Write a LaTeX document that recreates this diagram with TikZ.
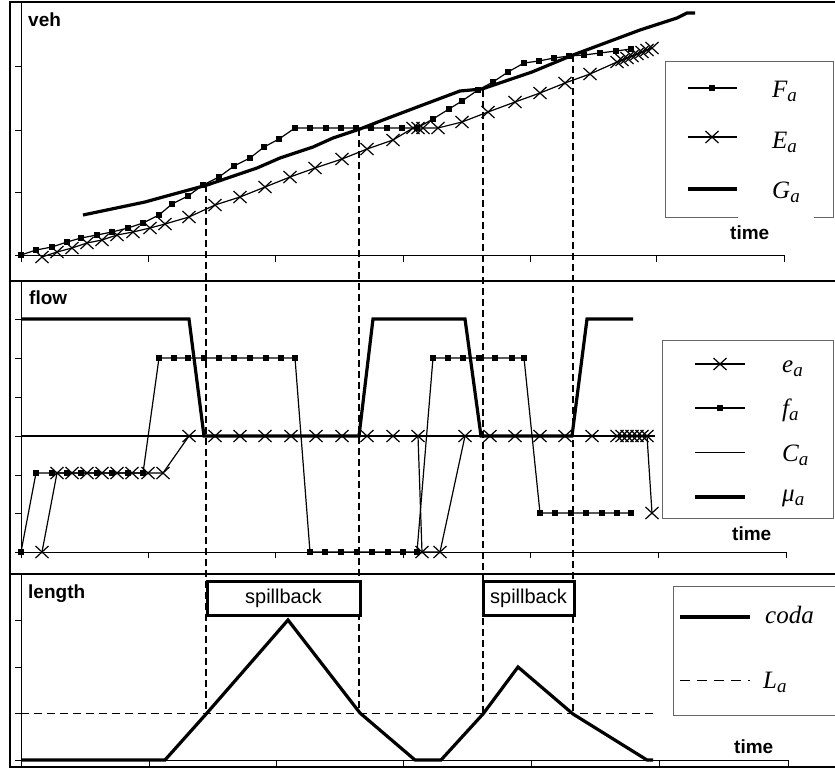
\documentclass[tikz,border=0pt]{standalone}
\usepackage{fontspec}
\setmainfont{Liberation Serif}
\setsansfont{Liberation Sans}
\usetikzlibrary{plotmarks}
\pgfdeclareplotmark{myx}{%
  \pgfpathmoveto{\pgfqpoint{-6.5pt}{-6pt}}\pgfpathlineto{\pgfqpoint{6.5pt}{6pt}}%
  \pgfpathmoveto{\pgfqpoint{-6.5pt}{6pt}}\pgfpathlineto{\pgfqpoint{6.5pt}{-6pt}}%
  \pgfusepathqstroke}
\pgfdeclareplotmark{mysq}{%
  \pgfpathrectangle{\pgfqpoint{-3pt}{-3pt}}{\pgfqpoint{6pt}{6pt}}\pgfusepathqfill}
\newcommand\vsub[2]{#1\raisebox{-4pt}{\fontsize{19}{19}\selectfont #2}}
\begin{document}
\begin{tikzpicture}[x=1pt,y=-1pt,
  frame/.style={line width=1.4pt},
  axisln/.style={line width=1pt},
  thinln/.style={line width=1.2pt},
  thickln/.style={line width=3.2pt},
  sqln/.style={thinln, mark=mysq},
  xln/.style={thinln, mark=myx, mark options={line width=1.2pt}},
  vdash/.style={line width=2pt, dash pattern=on 7pt off 4pt},
  ldash/.style={line width=1pt, dash pattern=on 8pt off 5pt},
  lab/.style={font=\sffamily\bfseries\fontsize{19}{19}\selectfont, inner sep=0pt, anchor=base west},
  legbox/.style={draw=black!60, line width=1pt},
  var/.style={font=\fontsize{25}{25}\selectfont\itshape, inner sep=0pt, anchor=base west},
  spillbox/.style={draw, line width=3pt, fill=white},
  spilltxt/.style={font=\sffamily\fontsize{20}{20}\selectfont, inner sep=0pt}
]
\useasboundingbox (0,0) rectangle (835,769);
\fill[white] (0,0) rectangle (835,769);
% frame
\draw[frame] (835,2) -- (10,2) -- (10,767) -- (835,767);
\draw[frame] (10,281) -- (835,281);
\draw[frame] (10,574) -- (835,574);

% ---------- top panel axes
\draw[axisln] (21,2) -- (21,255) -- (784,255);
\foreach \y in {66,130,192,255} \draw[axisln] (15,\y) -- (21,\y);
\foreach \x in {21,148,275,403,530,656,784} \draw[axisln] (\x,255) -- (\x,262);
% ---------- middle panel axes
\draw[axisln] (21,281) -- (21,552) -- (786,552);
\foreach \y in {319,358,397,436,475,513,552} \draw[axisln] (15,\y) -- (21,\y);
\foreach \x in {21,148,275,403,530,658,786} \draw[axisln] (\x,552) -- (\x,558);
% ---------- bottom panel axes
\draw[axisln] (21,574) -- (21,760) -- (788,760);
\foreach \y in {620,667,713,760} \draw[axisln] (15,\y) -- (21,\y);
\foreach \x in {21,149,276,403,531,659,788} \draw[axisln] (\x,760) -- (\x,767);

% dashed verticals
\draw[vdash] (206,185) -- (206,713);
\draw[vdash] (359,129) -- (359,713);
\draw[vdash] (483,90) -- (483,713);
\draw[vdash] (573,55) -- (573,713);

% ---------- top curves
\draw[thickln] plot coordinates {(83,215) (145,202) (163,197) (207,185) (257,168) (280,158) (313,147) (333,138) (360,129) (383,120) (420,106) (460,91) (482,89) (532,72) (573,55) (640,30) (677,18) (687,13) (695,13)};
\draw[sqln] plot coordinates {(21,255) (36,250) (52,247) (67,242) (81,238) (97,235) (112,232) (128,228) (143,223) (159,215) (172,204) (188,196) (203,185) (219,177) (234,166) (250,158) (264,147) (279,139) (295,128) (310,128) (326,128) (341,128) (356,128) (371,128) (387,128) (402,128) (417,128) (433,119) (449,109) (462,101) (478,90) (493,82) (508,72) (524,63) (539,61) (554,58) (569,56) (584,55) (600,53) (616,51) (631,49)};
\draw[xln] plot coordinates {(42,257) (57,252) (72,248) (87,243) (102,240) (117,235) (133,232) (150,228) (165,224) (189,217) (215,205) (240,197) (265,187) (290,177) (315,168) (342,159) (367,149) (393,140) (413,128) (418,128) (423,128) (438,128) (462,122) (488,112) (515,102) (540,93) (565,83) (590,74) (617,62) (622,60) (627,58) (632,56) (637,54) (642,52) (647,50) (652,48)};

% ---------- middle curves
\draw[thinln] (21,436) -- (655,436);
\draw[thickln] plot coordinates {(21,319) (189,319) (204,436) (359,436) (373,319) (465,319) (481,436) (572,436) (587,319) (633,319)};
\draw[sqln] plot coordinates {(21,552) (36,473) (52,473) (67,473) (81,473) (97,473) (112,473) (128,473) (143,473) (159,358) (174,358) (188,358) (204,358) (219,358) (234,358) (250,358) (266,358) (281,358) (295,358) (310,552) (325,552) (341,552) (357,552) (372,552) (388,552) (403,552) (417,552) (433,358) (448,358) (463,358) (479,358) (495,358) (512,358) (524,358) (540,513) (555,513) (571,513) (586,513) (602,513) (617,513) (631,513)};
\draw[xln] plot coordinates {(42,552) (57,473) (72,473) (87,473) (102,473) (117,473) (132,473) (148,473) (163,473) (189,436) (215,436) (240,436) (265,436) (291,436) (316,436) (342,436) (367,436) (393,436) (418,436) (422,552) (440,552) (465,436) (490,436) (515,436) (540,436) (565,436) (592,436) (617,436) (622,436) (627,436) (632,436) (637,436) (642,436) (647,436) (652,513)};

% ---------- bottom curves
\draw[ldash] (21,713) -- (653,713);
\draw[thickln] plot coordinates {(21,760) (165,760) (207,713) (288,620) (360,713) (415,760) (441,760) (483,714) (518,667) (573,714) (647,760) (653,760)};

% spillback boxes
\draw[spillbox] (207,581) rectangle (360,615);
\node[spilltxt] (sp1) at (283.5,598) {spillback};
\draw[spillbox] (483,581) rectangle (574,615);
\node[spilltxt] (sp2) at (528.5,598) {spillback};

% panel labels
\node[lab] (veh) at (28,26) {veh};
\node[lab] (flow) at (29,304) {flow};
\node[lab] (len) at (28,598) {length};
\node[lab] (t1) at (730,239) {time};
\node[lab] (t2) at (732,540) {time};
\node[lab] (t3) at (734,753) {time};

% ---------- top legend
\draw[legbox] (738,217) -- (665,217) -- (665,61) -- (833,61) -- (833,217) -- (814,217);
\draw[thinln] (688,88) -- (737,88);
\draw[thinln, mark=mysq] plot coordinates {(712,88)};
\draw[thinln] (688,137) -- (737,137);
\draw[thinln, mark=myx, mark options={line width=1.2pt}] plot coordinates {(712,137)};
\draw[thickln] (688,189) -- (737,189);
\node[var] (lF) at (772,97) {\vsub{F}{a}};
\node[var] (lE) at (772,148) {\vsub{E}{a}};
\node[var] (lG) at (772,198) {\vsub{G}{a}};

% ---------- middle legend
\draw[legbox] (662,340) rectangle (833,518);
\draw[thinln] (695,364) -- (745,364);
\draw[thinln, mark=myx, mark options={line width=1.2pt}] plot coordinates {(720,364)};
\draw[thinln] (695,408) -- (745,408);
\draw[thinln, mark=mysq] plot coordinates {(720,408)};
\draw[line width=1pt] (695,452) -- (745,452);
\draw[thickln] (695,497) -- (745,497);
\node[var] (le) at (782,372) {\vsub{e}{a}};
\node[var] (lf) at (782,416) {\vsub{f}{a}};
\node[var] (lC) at (782,461) {\vsub{C}{a}};
\node[var] (lmu) at (782,501) {\vsub{μ}{a}};

% ---------- bottom legend
\draw[legbox] (835,586) -- (673,586) -- (673,715) -- (835,715);
\draw[thickln] (680,617) -- (750,617);
\draw[ldash, dash pattern=on 10pt off 7pt] (680,680) -- (750,680);
\node[var] (lcoda) at (765,623) {coda};
\node[var] (lL) at (763,688) {\vsub{L}{a}};
\end{tikzpicture}
\end{document}
